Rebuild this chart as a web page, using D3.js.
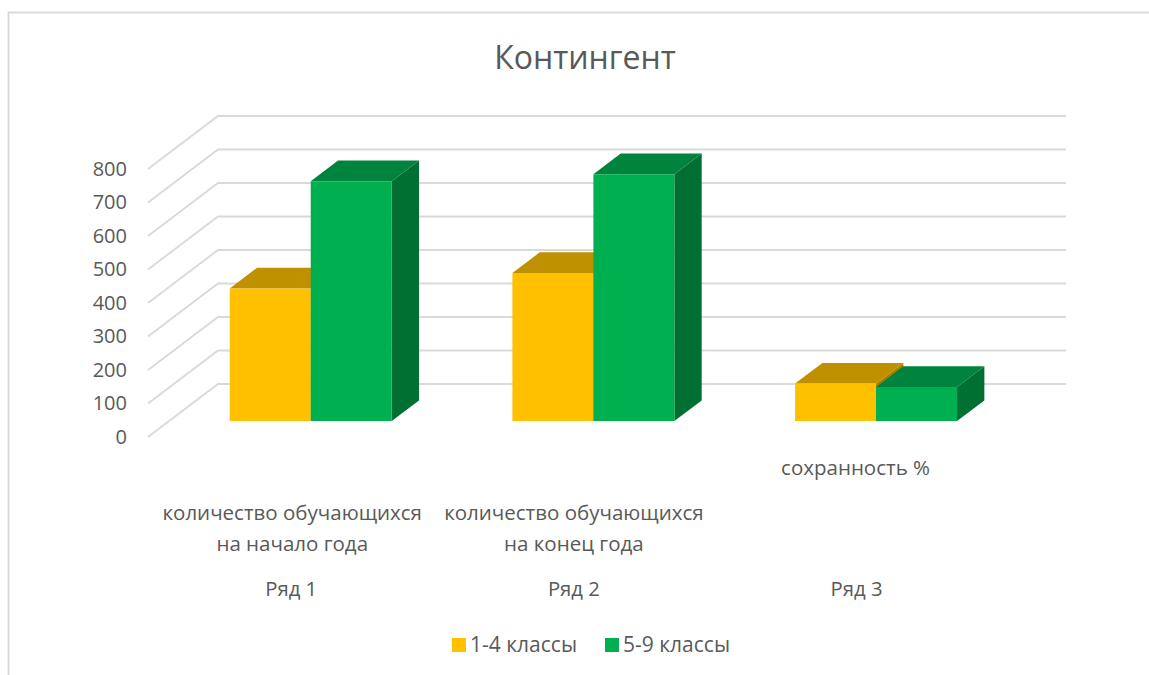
<!DOCTYPE html>
<html>
<head>
<meta charset="utf-8">
<title>Контингент</title>
<style>
html, body { margin: 0; padding: 0; background: #fff; }
svg { display: block; font-family: "Open Sans", sans-serif; }
text { fill: #595959; }
.grid { stroke: #d9d9d9; stroke-width: 1.8; fill: none; }
.axis path, .axis line { display: none; }
.axis text { font-size: 20px; font-family: "Open Sans", sans-serif; fill: #595959; }
</style>
</head>
<body>
<svg width="1149" height="675"></svg>
<script src="https://cdnjs.cloudflare.com/ajax/libs/d3/7.8.5/d3.min.js"></script>
<script>
// data
var categories = ["Ряд 1", "Ряд 2", "Ряд 3"];
var categoryLabels = [
	["количество обучающихся", "на начало года"],
	["количество обучающихся", "на конец года"],
	["сохранность %"]
];
var seriesNames = ["1-4 классы", "5-9 классы"];
var juniorValues = [396, 442, 112];
var seniorValues = [716, 737, 102];
var yTicks = [0, 100, 200, 300, 400, 500, 600, 700, 800];
var title = "Контингент";

var faceColors = ["#ffc000", "#00b050"];
var topColors = ["#bf9000", "#00843d"];
var sideColors = ["#a87e00", "#006f32"];

var svg = d3.select("svg");

// fake 3d: floor depth in pixels, bars sit between two depth fractions
var depthX = 70, depthY = 53;
var barFront = 0.3, barBack = 0.69;

var y = d3.scaleLinear().domain([0, 800]).range([437, 169]);
var x0 = d3.scaleBand().domain(categories).range([148.4, 996.4])
	.paddingInner(0.427).paddingOuter(0.2135);
var x1 = d3.scaleBand().domain(seriesNames).range([0, x0.bandwidth()]);

function px(x, d) { return x + depthX * d; }
function py(v, d) { return y(v) - depthY * d; }

// chart frame
svg.append("path").attr("class", "grid")
	.attr("d", "M8.5,675V12.5H1149");

// gridlines
var grid = svg.append("g");
yTicks.forEach(function(t) {
	grid.append("path").attr("class", "grid")
		.attr("d", d3.line()([
			[px(148, 0), py(t, 0)],
			[px(148, 1), py(t, 1)],
			[px(996, 1), py(t, 1)]
		]));
});

// bars
var juniorRows = categories.map(function(c, i) { return {cat: c, s: 0, v: juniorValues[i]}; });
var seniorRows = categories.map(function(c, i) { return {cat: c, s: 1, v: seniorValues[i]}; });

function poly(points) { return d3.line()(points) + "Z"; }

categories.forEach(function(c, i) {
	var g = svg.append("g");
	[juniorRows[i], seniorRows[i]].forEach(function(d) {
		var l = x0(d.cat) + x1(seriesNames[d.s]);
		var r = l + x1.bandwidth();
		// side
		g.append("path").attr("fill", sideColors[d.s])
			.attr("d", poly([
				[px(r, barFront), py(0, barFront)],
				[px(r, barBack), py(0, barBack)],
				[px(r, barBack), py(d.v, barBack)],
				[px(r, barFront), py(d.v, barFront)]
			]));
		// top
		g.append("path").attr("fill", topColors[d.s])
			.attr("d", poly([
				[px(l, barFront), py(d.v, barFront)],
				[px(l, barBack), py(d.v, barBack)],
				[px(r, barBack), py(d.v, barBack)],
				[px(r, barFront), py(d.v, barFront)]
			]));
		// front
		g.append("path").attr("fill", faceColors[d.s])
			.attr("d", poly([
				[px(l, barFront), py(0, barFront)],
				[px(l, barFront), py(d.v, barFront)],
				[px(r, barFront), py(d.v, barFront)],
				[px(r, barFront), py(0, barFront)]
			]));
	});
});

// y axis
svg.append("g").attr("class", "axis")
	.attr("transform", "translate(135,0)")
	.call(d3.axisLeft(y).tickValues(yTicks).tickSize(0).tickPadding(8))
	.selectAll("text").attr("dy", "0.32em").attr("y", 0);

// category labels, two levels
var lineTop = [513, 513, 468];
var lineShift = [1, 0, -1];
categoryLabels.forEach(function(lines, i) {
	var cx = x0(categories[i]) + x0.bandwidth() / 2 + 1.5;
	lines.forEach(function(t, j) {
		svg.append("text")
			.attr("x", cx + lineShift[i])
			.attr("y", lineTop[i] + j * 31 + 7)
			.attr("text-anchor", "middle")
			.attr("font-size", 20.5)
			.text(t);
	});
	svg.append("text")
		.attr("x", cx)
		.attr("y", 596)
		.attr("text-anchor", "middle")
		.attr("font-size", 20.3)
		.text(categories[i]);
});

// title
svg.append("text")
	.attr("x", 585)
	.attr("y", 69)
	.attr("text-anchor", "middle")
	.attr("font-size", 32)
	.text(title);

// legend
var legendX = [452, 605];
seriesNames.forEach(function(name, i) {
	svg.append("rect")
		.attr("x", legendX[i]).attr("y", 638)
		.attr("width", 14).attr("height", 14)
		.attr("fill", faceColors[i]);
	svg.append("text")
		.attr("x", legendX[i] + 18).attr("y", 652)
		.attr("font-size", 21)
		.text(name);
});
</script>
</body>
</html>
